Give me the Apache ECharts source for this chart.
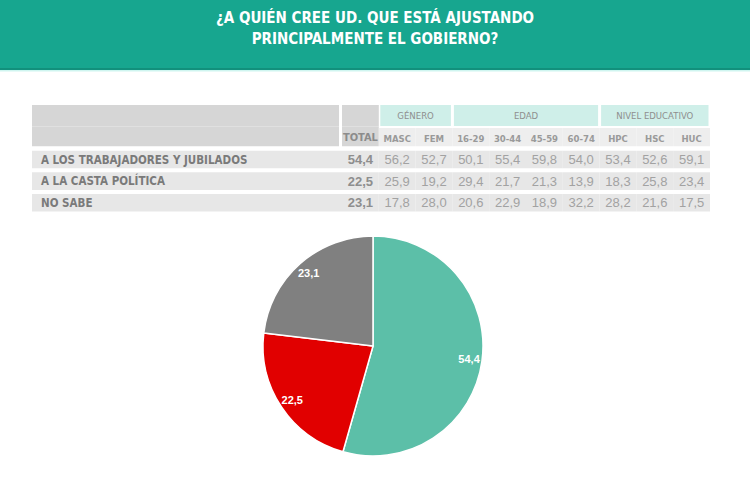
<!DOCTYPE html>
<html>
<head>
<meta charset="utf-8">
<script src="https://cdn.jsdelivr.net/npm/echarts@6/dist/echarts.min.js"></script>
<style>
html,body{margin:0;padding:0;background:#fff;}
#chart{width:750px;height:477px;}
</style>
</head>
<body>
<div id="chart"></div>
<script>
// ---- data ----
const titleLines = ['¿A QUIÉN CREE UD. QUE ESTÁ AJUSTANDO', 'PRINCIPALMENTE EL GOBIERNO?'];
const answers = ['A LOS TRABAJADORES Y JUBILADOS', 'A LA CASTA POLÍTICA', 'NO SABE'];
const columns = ['TOTAL', 'MASC', 'FEM', '16-29', '30-44', '45-59', '60-74', 'HPC', 'HSC', 'HUC'];
const groupNames = ['GÉNERO', 'EDAD', 'NIVEL EDUCATIVO'];
const groupStart = [1, 3, 7];
const groupEnd = [2, 6, 9];
const total = [54.4, 22.5, 23.1];
const masc = [56.2, 25.9, 17.8];
const fem = [52.7, 19.2, 28.0];
const age1629 = [50.1, 29.4, 20.6];
const age3044 = [55.4, 21.7, 22.9];
const age4559 = [59.8, 21.3, 18.9];
const age6074 = [54.0, 13.9, 32.2];
const hpc = [53.4, 18.3, 28.2];
const hsc = [52.6, 25.8, 21.6];
const huc = [59.1, 23.4, 17.5];
const rowKeys = ['h1', 'h2', 'r1', 'r2', 'r3'];

// ---- styles ----
const NARROW = "'Liberation Sans Narrow','DejaVu Sans Condensed',sans-serif";
const REG = "'Liberation Sans','Arial',sans-serif";
const colValues = [total, masc, fem, age1629, age3044, age4559, age6074, hpc, hsc, huc];
const fmt = v => v.toFixed(1).replace('.', ',');

// label column cells (grid 0)
const meta0 = [];
meta0.push({c0:0,c1:0,r0:0,r1:0,fill:'#D6D6D6',text:'',iR:3});
meta0.push({c0:0,c1:0,r0:1,r1:1,fill:'#D6D6D6',text:'',iR:3,iB:2});
answers.forEach((a, i) => meta0.push({c0:0,c1:0,r0:i+2,r1:i+2,fill:'#E7E7E7',text:a,iT:2.5,iB:1.5,
  align:'left',pad:9,color:'#7A7A7A',size:11.5,weight:'bold',family:NARROW}));

// value columns cells (grid 1)
const meta1 = [];
meta1.push({c0:0,c1:0,r0:0,r1:0,fill:'#D6D6D6',text:''});
meta1.push({c0:0,c1:0,r0:1,r1:1,fill:'#D6D6D6',text:columns[0],iB:2,color:'#8C8C8C',size:11,weight:'bold',family:NARROW,dy:1});
groupNames.forEach((g, i) => meta1.push({c0:groupStart[i],c1:groupEnd[i],r0:0,r1:0,fill:'#CFEFE9',text:g,
  iL:1.5,iR:1.5,iB:0.5,color:'#8E8E8E',size:9.5,weight:'normal',family:NARROW}));
for (let c = 1; c < columns.length; c++) {
  meta1.push({c0:c,c1:c,r0:1,r1:1,fill:'#EEEEEE',text:columns[c],iT:1.5,iB:2,color:'#9A9A9A',size:9.5,weight:'bold',family:NARROW,dy:1});
}
for (let r = 0; r < answers.length; r++) {
  for (let c = 0; c < columns.length; c++) {
    meta1.push({c0:c,c1:c,r0:r+2,r1:r+2,fill:'#E7E7E7',text:fmt(colValues[c][r]),iT:2.5,iB:1.5,
      color: c === 0 ? '#8E8E8E' : '#A2A2A2', size:13, weight: c === 0 ? 'bold' : 'normal', family:REG});
  }
}

function cellRenderer(meta) {
  return function (params, api) {
    const m = meta[params.dataIndex];
    const p0 = api.coord([api.value(0), api.value(1)]);
    const p1 = api.coord([api.value(2), api.value(3)]);
    const sz = api.size([1, 1]);
    let x0 = p0[0] - sz[0] / 2 + (m.iL || 0);
    let x1 = p1[0] + sz[0] / 2 - (m.iR || 0);
    let y0 = p0[1] - sz[1] / 2 + (m.iT || 0);
    let y1 = p1[1] + sz[1] / 2 - (m.iB || 0);
    const children = [{type:'rect', shape:{x:x0, y:y0, width:x1 - x0, height:y1 - y0}, style:{fill:m.fill}}];
    if (m.text) {
      children.push({type:'text', style:{
        text:m.text,
        x: m.align === 'left' ? x0 + m.pad : (x0 + x1) / 2,
        y: (y0 + y1) / 2 + (m.dy || 0),
        align: m.align || 'center', verticalAlign:'middle',
        fill:m.color, fontSize:m.size, fontWeight:m.weight, fontFamily:m.family
      }});
    }
    return {type:'group', children};
  };
}

const chart = echarts.init(document.getElementById('chart'), null, {renderer:'svg'});
chart.setOption({
  animation:false,
  graphic:[
    {type:'rect', z:-10, shape:{x:0,y:0,width:750,height:68}, style:{fill:'#17A68F'}},
    {type:'rect', z:-10, shape:{x:0,y:68,width:750,height:2}, style:{fill:'#12907C'}},
    {type:'rect', z:-10, shape:{x:0,y:70,width:750,height:1.5}, style:{fill:'#CFF5F0'}}
  ],
  title:{
    text: titleLines.join('\n'), left:'center', top:7, padding:0,
    textStyle:{color:'#FFFFFF', fontSize:15, fontWeight:'bold', fontFamily:NARROW, lineHeight:21.5, align:'center'}
  },
  grid:[
    {left:32, top:105, width:310, height:108},
    {left:342, top:105, width:368, height:108}
  ],
  xAxis:[
    {type:'category', gridIndex:0, data:['label'], show:false},
    {type:'category', gridIndex:1, data:columns, show:false}
  ],
  yAxis:[
    {type:'category', gridIndex:0, data:rowKeys, inverse:true, show:false},
    {type:'category', gridIndex:1, data:rowKeys, inverse:true, show:false}
  ],
  series:[
    {type:'custom', xAxisIndex:0, yAxisIndex:0, renderItem:cellRenderer(meta0),
      data: meta0.map(m => [m.c0, m.r0, m.c1, m.r1]), silent:true},
    {type:'custom', xAxisIndex:1, yAxisIndex:1, renderItem:cellRenderer(meta1),
      data: meta1.map(m => [m.c0, m.r0, m.c1, m.r1]), silent:true},
    {type:'pie', center:[373, 346], radius:[0, 110], startAngle:90, clockwise:true, silent:true,
      label:{show:false}, labelLine:{show:false},
      itemStyle:{borderColor:'#FFFFFF', borderWidth:1.5},
      data: answers.map((a, i) => ({name:a, value:total[i], itemStyle:{color:['#5CBFA8', '#E10000', '#808080'][i]}}))},
    {type:'pie', center:[373, 346], radius:[80, 108], startAngle:90, clockwise:true, silent:true,
      itemStyle:{color:'rgba(0,0,0,0)'},
      label:{show:true, position:'inside', formatter: p => fmt(p.value), color:'#FFFFFF',
        fontSize:11, fontWeight:'bold', fontFamily:REG},
      labelLine:{show:false},
      data: answers.map((a, i) => ({name:a, value:total[i]}))}
  ]
});
</script>
</body>
</html>
